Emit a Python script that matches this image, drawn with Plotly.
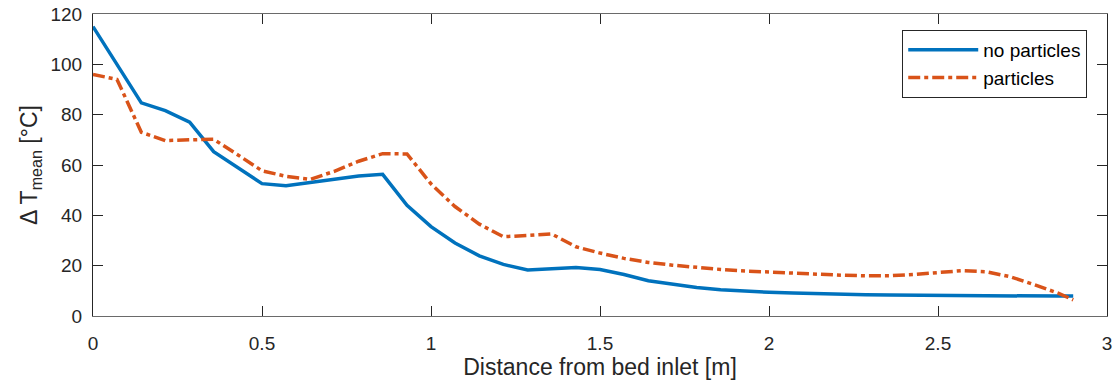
import plotly.graph_objects as go

distance = [0, 0.071, 0.143, 0.214, 0.286, 0.357, 0.429, 0.5, 0.571, 0.643, 0.714,
            0.786, 0.857, 0.929, 1.0, 1.071, 1.143, 1.214, 1.286, 1.357, 1.429,
            1.5, 1.571, 1.643, 1.714, 1.786, 1.857, 1.929, 2.0, 2.071, 2.143,
            2.214, 2.286, 2.357, 2.429, 2.5, 2.571, 2.643, 2.714, 2.786, 2.857, 2.9]

no_particles = [115, 100, 84.7, 81.6, 77.0, 65.3, 59.0, 52.6, 51.8, 53.1, 54.2,
                55.6, 56.3, 44.0, 35.5, 29.0, 23.9, 20.5, 18.3, 18.7, 19.3,
                18.5, 16.5, 14.0, 12.5, 11.3, 10.4, 9.8, 9.4, 9.1, 8.8,
                8.6, 8.45, 8.3, 8.2, 8.1, 8.0, 8.0, 7.9, 7.9, 7.9, 7.9]

particles = [96.0, 94.0, 73.0, 69.7, 70.0, 70.2, 64.0, 57.7, 55.5, 54.3, 57.5,
             61.5, 64.5, 64.4, 52.5, 43.5, 36.5, 31.5, 32.0, 32.6, 27.5,
             25.0, 22.9, 21.3, 20.2, 19.3, 18.5, 17.9, 17.4, 17.0, 16.6,
             16.2, 16.0, 16.0, 16.5, 17.3, 18.0, 17.6, 15.6, 12.4, 9.0, 6.4]

x_ticks = [0, 0.5, 1, 1.5, 2, 2.5, 3]
x_tick_labels = ["0", "0.5", "1", "1.5", "2", "2.5", "3"]
y_ticks = [0, 20, 40, 60, 80, 100, 120]

FONT = "Liberation Sans, Arial, Helvetica, sans-serif"
AX = "#262626"

fig = go.Figure()
fig.add_trace(go.Scatter(x=distance, y=no_particles, mode="lines", name="no particles",
                         line=dict(color="#0072BD", width=3.5)))
fig.add_trace(go.Scatter(x=distance, y=particles, mode="lines", name="particles",
                         line=dict(color="#D95319", width=3.5, dash="12px,4px,4px,4px")))

axis_common = dict(showline=True, linewidth=1, mirror="ticks",
                   ticks="inside", ticklen=10, tickcolor=AX, tickwidth=1.2,
                   showgrid=False, zeroline=False, automargin=False,
                   tickfont=dict(family=FONT, size=19, color=AX))

fig.update_xaxes(range=[0, 3], tickvals=x_ticks, ticktext=x_tick_labels,
                 linecolor="#6a6a6a", ticklabelstandoff=10,
                 title=dict(text="Distance from bed inlet [m]", standoff=6,
                            font=dict(family=FONT, size=23, color=AX)),
                 **axis_common)
fig.update_yaxes(range=[0, 120], tickvals=y_ticks,
                 linecolor=AX, ticklabelstandoff=6,
                 title=dict(text="Δ T<sub>mean</sub> [°C]", standoff=6,
                            font=dict(family=FONT, size=23, color=AX)),
                 **axis_common)

fig.update_layout(
    width=1116, height=385,
    margin=dict(l=93, r=9, t=14, b=69),
    plot_bgcolor="white", paper_bgcolor="white",
    font=dict(family=FONT, size=19, color=AX),
    legend=dict(x=0.9805, y=0.947, xanchor="right", yanchor="top",
                bgcolor="white", bordercolor=AX, borderwidth=1,
                font=dict(family=FONT, size=19, color="#000000"),
                tracegroupgap=0, itemwidth=70),
    showlegend=True,
)

fig.write_html("out.html")
